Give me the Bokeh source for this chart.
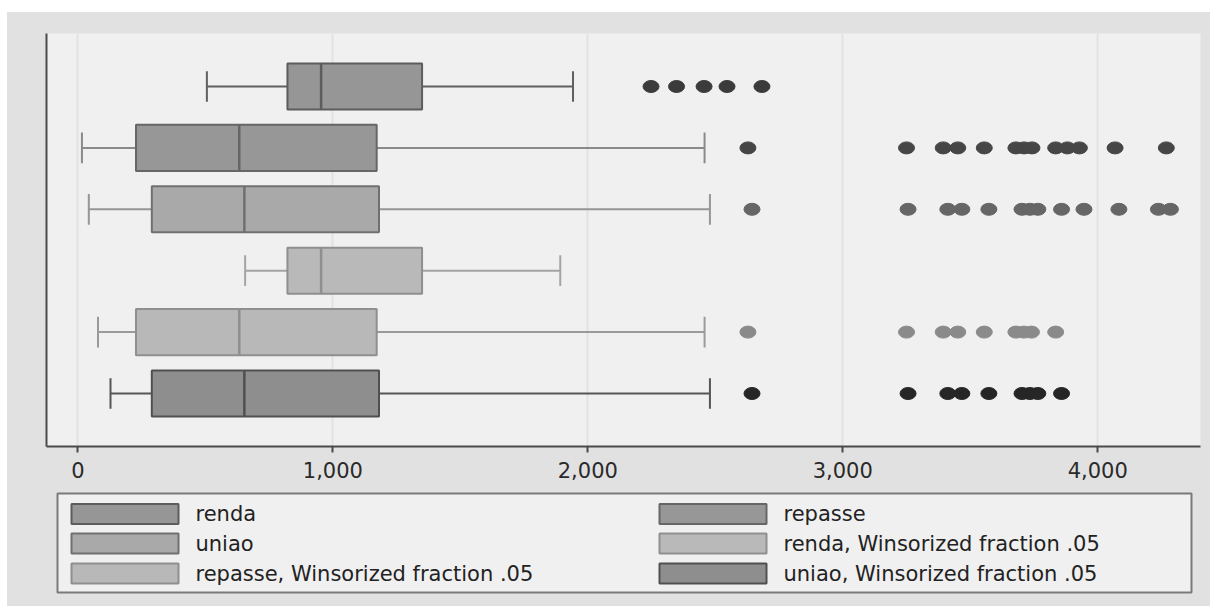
from bokeh.plotting import figure
from bokeh.layouts import column, row, Spacer
from bokeh.models import Range1d, FixedTicker, NumeralTickFormatter
from bokeh.core.properties import value
from bokeh.embed import file_html
from bokeh.resources import INLINE

# ---------------- data ----------------
series = ["renda", "repasse", "uniao",
          "renda, Winsorized fraction .05",
          "repasse, Winsorized fraction .05",
          "uniao, Winsorized fraction .05"]
whisker_low = [506, 16, 43, 656, 79, 128]
q1 = [822, 228, 290, 822, 228, 290]
median = [954, 633, 653, 954, 633, 653]
q3 = [1350, 1172, 1181, 1350, 1172, 1181]
whisker_high = [1942, 2458, 2479, 1892, 2458, 2479]
outliers = [
    [2248, 2348, 2456, 2546, 2683],
    [2628, 3250, 3394, 3451, 3555, 3679, 3711, 3742, 3835, 3881, 3928, 4068, 4269],
    [2644, 3256, 3412, 3467, 3573, 3703, 3734, 3765, 3858, 3946, 4083, 4238, 4285],
    [],
    [2628, 3250, 3394, 3451, 3555, 3679, 3710, 3740, 3835],
    [2644, 3256, 3412, 3467, 3573, 3703, 3734, 3765, 3858],
]
x_ticks = [0, 1000, 2000, 3000, 4000]

# ---------------- styles ----------------
fills = ["#969696", "#979797", "#a9a9a9", "#b9b9b9", "#b8b8b8", "#8e8e8e"]
box_lines = ["#5c5c5c", "#666666", "#707070", "#8f8f8f", "#8f8f8f", "#505050"]
whisk_lines = ["#5f5f5f", "#8a8a8a", "#969696", "#a4a4a4", "#9a9a9a", "#555555"]
marker_cols = ["#3b3b3b", "#464646", "#666666", "#999999", "#8a8a8a", "#262626"]

FONT = "DejaVu Sans"
OUTER = "#e1e1e1"
INNER = "#f0f0f0"

TOP_PAD, LEFT_PAD = 12, 7
W = 1210 - LEFT_PAD
MAIN_H = 488 - TOP_PAD
BL, BR = 46 - LEFT_PAD, 10
p = figure(width=W, height=MAIN_H, output_backend="svg", toolbar_location=None,
           x_range=Range1d(-123, 4403), y_range=Range1d(6.863, 0.137),
           min_border_left=BL, min_border_right=BR, min_border_top=33 - TOP_PAD,
           min_border_bottom=42)
p.background_fill_color = INNER
p.border_fill_color = OUTER
p.outline_line_color = None

ypos = list(range(1, len(series) + 1))
BOX_H = 0.75
CAP = 0.25
for i, y in enumerate(ypos):
    # whiskers
    p.segment(x0=[whisker_low[i], q3[i]], y0=[y, y], x1=[q1[i], whisker_high[i]], y1=[y, y],
              line_color=whisk_lines[i], line_width=2)
    p.segment(x0=[whisker_low[i], whisker_high[i]], y0=[y - CAP, y - CAP],
              x1=[whisker_low[i], whisker_high[i]], y1=[y + CAP, y + CAP],
              line_color=whisk_lines[i], line_width=2)
    # box
    p.hbar(y=[y], left=[q1[i]], right=[q3[i]], height=BOX_H,
           fill_color=fills[i], line_color=box_lines[i], line_width=2)
    # median
    p.segment(x0=[median[i]], y0=[y - BOX_H / 2], x1=[median[i]], y1=[y + BOX_H / 2],
              line_color=box_lines[i], line_width=2.5)
    # outliers
    if outliers[i]:
        p.ellipse(x=outliers[i], y=[y] * len(outliers[i]), width=16, height=12,
                  width_units="screen", height_units="screen",
                  fill_color=marker_cols[i], line_color=marker_cols[i])

# axes
p.xaxis.ticker = FixedTicker(ticks=x_ticks)
p.xaxis.formatter = NumeralTickFormatter(format="0,0")
p.xaxis.axis_line_color = "#4a4a4a"
p.xaxis.axis_line_width = 2
p.xaxis.major_tick_line_color = "#4a4a4a"
p.xaxis.major_tick_line_width = 2
p.xaxis.major_tick_out = 6
p.xaxis.major_tick_in = 0
p.xaxis.minor_tick_line_color = None
p.xaxis.major_label_standoff = 9
p.xaxis.major_label_text_font = FONT
p.xaxis.major_label_text_font_size = "21px"
p.xaxis.major_label_text_color = "#2a2a2a"

p.yaxis.ticker = FixedTicker(ticks=[])
p.yaxis.axis_line_color = "#4a4a4a"
p.yaxis.axis_line_width = 2
p.yaxis.major_tick_line_color = None
p.yaxis.minor_tick_line_color = None
p.yaxis.major_label_text_font_size = "0px"

p.xgrid.ticker = FixedTicker(ticks=x_ticks)
p.xgrid.grid_line_color = "#e2e2e2"
p.xgrid.grid_line_width = 2
p.ygrid.grid_line_color = None

# ---------------- legend panel ----------------
L_H = 606 - 488
lg = figure(width=W, height=L_H, output_backend="svg", toolbar_location=None,
            x_range=Range1d(46, 1200), y_range=Range1d(L_H, 0),
            min_border_left=BL, min_border_right=BR,
            min_border_top=0, min_border_bottom=0)
lg.axis.visible = False
lg.grid.visible = False
lg.outline_line_color = None
lg.background_fill_alpha = 0
lg.border_fill_color = OUTER

# legend frame
lg.quad(left=[57], right=[1191], top=[5], bottom=[104],
        fill_color=INNER, line_color="#7a7a7a", line_width=2)

order = [0, 1, 2, 3, 4, 5]  # row-major: (renda, repasse), (uniao, renda W), (repasse W, uniao W)
col_key_x = [71, 659]
col_text_x = [195, 783]
row_y = [25.5, 55, 85]
KEY_W, KEY_H = 107, 20
for k, idx in enumerate(order):
    r, c = divmod(k, 2)
    kx = col_key_x[c]
    ky = row_y[r]
    lg.quad(left=[kx], right=[kx + KEY_W], top=[ky - KEY_H / 2], bottom=[ky + KEY_H / 2],
            fill_color=fills[idx], line_color=box_lines[idx], line_width=2)
    lg.text(x=[col_text_x[c]], y=[ky], text=[series[idx]],
            text_font=value(FONT), text_font_size="21px", text_color="#222222",
            text_baseline="middle", text_align="left")

inner = column(p, lg, spacing=0, styles={"background-color": OUTER})
layout = column(Spacer(height=TOP_PAD),
                row(Spacer(width=LEFT_PAD), inner, spacing=0),
                spacing=0)
open("out.html", "w").write(file_html(layout, INLINE))
